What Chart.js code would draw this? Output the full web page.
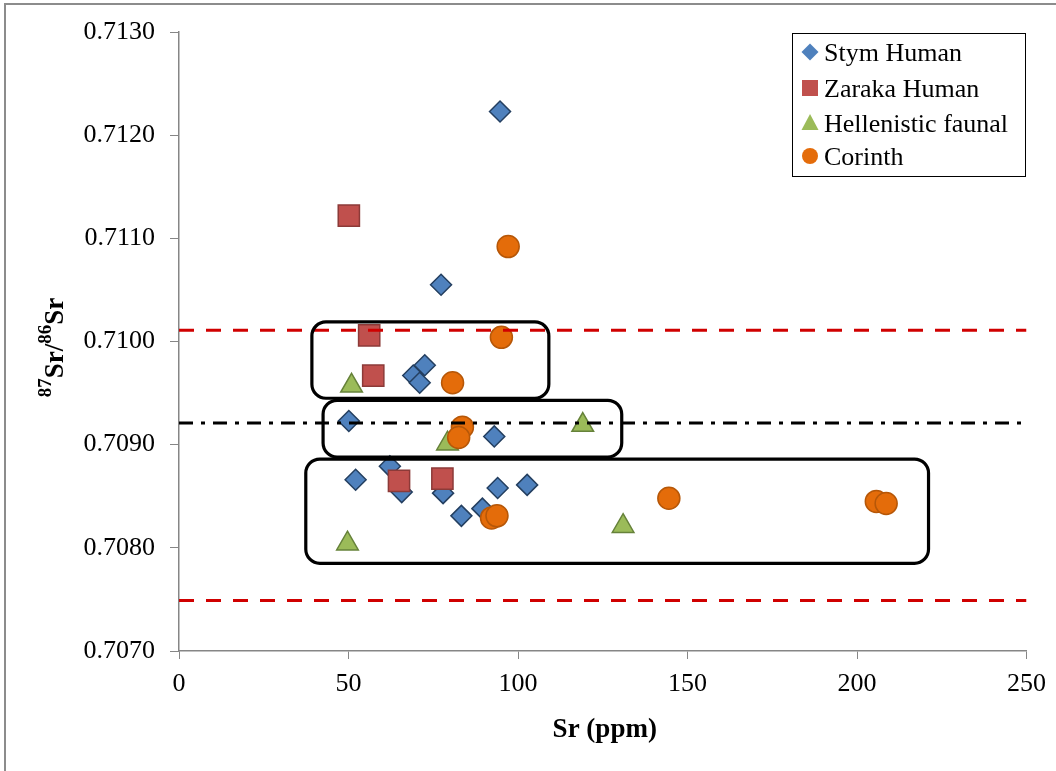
<!DOCTYPE html>
<html>
<head>
<meta charset="utf-8">
<script src="https://cdn.jsdelivr.net/npm/chart.js@4.4.1/dist/chart.umd.min.js"></script>
<style>
html,body{margin:0;padding:0;background:#fff;}
#wrap{width:1056px;height:771px;position:relative;}
</style>
</head>
<body>
<div id="wrap"><canvas id="c" width="1056" height="771"></canvas></div>
<script>
// ---- Data ----
const seriesNames = ['Stym Human', 'Zaraka Human', 'Hellenistic faunal', 'Corinth'];

const stymX = [94.7, 77.3, 72.5, 69.1, 71.0, 50.1, 93.0, 52.1, 62.2, 65.7, 77.9, 94.0, 102.7, 83.3, 89.5];
const stymY = [0.71223, 0.71055, 0.70977, 0.70967, 0.70960, 0.70923, 0.70908, 0.70866, 0.70879, 0.70854, 0.70853, 0.70858, 0.70861, 0.70831, 0.70838];

const zarakaX = [50.1, 56.1, 57.3, 64.9, 77.7];
const zarakaY = [0.71122, 0.71006, 0.70967, 0.70865, 0.70867];

const hellenX = [50.9, 79.2, 119.1, 49.7, 131.0];
const hellenY = [0.70957, 0.70901, 0.70919, 0.70804, 0.70821];

const corinthX = [97.1, 95.1, 80.7, 83.6, 82.5, 92.2, 93.8, 144.5, 205.7, 208.6];
const corinthY = [0.71092, 0.71004, 0.70960, 0.70917, 0.70907, 0.70829, 0.70831, 0.70848, 0.70845, 0.70843];

// reference lines: upper local range, lower local range, mean
const refLineNames = ['upper range', 'lower range', 'mean'];
const refLineValues = [0.71011, 0.70749, 0.70921];

// grouping boxes drawn on the chart (data units)
const boxXMin = [39.2, 42.5, 37.4];
const boxXMax = [109.1, 130.6, 221.1];
const boxYMin = [0.70945, 0.70888, 0.70785];
const boxYMax = [0.71019, 0.70943, 0.70886];

const xTickValues = [0, 50, 100, 150, 200, 250];
const xTickLabels = ['0', '50', '100', '150', '200', '250'];
const yTickValues = [0.707, 0.708, 0.709, 0.710, 0.711, 0.712, 0.713];
const yTickLabels = ['0.7070', '0.7080', '0.7090', '0.7100', '0.7110', '0.7120', '0.7130'];

const xTitle = 'Sr (ppm)';
const yTitleParts = [['87', true], ['Sr', false], ['/', false], ['86', true], ['Sr', false]];

// ---- Styles ----
const SERIF = '"Liberation Serif", "Times New Roman", serif';
const styles = [
  {pointStyle: 'rectRot', radius: 10.5, fill: '#4F81BD', stroke: '#243F60'},
  {pointStyle: 'rect', radius: 15, fill: '#C0504D', stroke: '#8C3A38'},
  {pointStyle: 'triangle', radius: 12.5, fill: '#9BBB59', stroke: '#66823A'},
  {pointStyle: 'circle', radius: 11, fill: '#E46C0A', stroke: '#B65708'}
];
const seriesX = [stymX, zarakaX, hellenX, corinthX];
const seriesY = [stymY, zarakaY, hellenY, corinthY];

function pts(xs, ys) { return xs.map((x, i) => ({x: x, y: ys[i]})); }

const datasets = seriesNames.map((name, i) => ({
  label: name,
  data: pts(seriesX[i], seriesY[i]),
  showLine: false,
  pointStyle: styles[i].pointStyle,
  pointRadius: styles[i].radius,
  pointBackgroundColor: styles[i].fill,
  pointBorderColor: styles[i].stroke,
  pointBorderWidth: 1.5,
  order: 10 - i
}));

const lineStyles = [
  {color: '#D00000', dash: [15, 12]},
  {color: '#D00000', dash: [15, 12]},
  {color: '#000000', dash: [14, 8, 4, 8]}
];
refLineValues.forEach((v, i) => {
  datasets.push({
    label: refLineNames[i],
    data: [{x: xTickValues[0], y: v}, {x: xTickValues[xTickValues.length - 1], y: v}],
    showLine: true,
    fill: false,
    pointRadius: 0,
    borderColor: lineStyles[i].color,
    borderWidth: 3,
    borderDash: lineStyles[i].dash,
    order: 2
  });
});

function roundRect(ctx, x, y, w, h, r) {
  ctx.beginPath();
  ctx.moveTo(x + r, y);
  ctx.arcTo(x + w, y, x + w, y + h, r);
  ctx.arcTo(x + w, y + h, x, y + h, r);
  ctx.arcTo(x, y + h, x, y, r);
  ctx.arcTo(x, y, x + w, y, r);
  ctx.closePath();
}

function drawMarker(ctx, style, cx, cy) {
  ctx.save();
  ctx.fillStyle = style.fill;
  ctx.beginPath();
  if (style.pointStyle === 'rectRot') {
    const r = 8.5;
    ctx.moveTo(cx, cy - r); ctx.lineTo(cx + r, cy); ctx.lineTo(cx, cy + r); ctx.lineTo(cx - r, cy); ctx.closePath();
  } else if (style.pointStyle === 'rect') {
    ctx.rect(cx - 8, cy - 8, 16, 16);
  } else if (style.pointStyle === 'triangle') {
    ctx.moveTo(cx, cy - 9); ctx.lineTo(cx + 8.5, cy + 7); ctx.lineTo(cx - 8.5, cy + 7); ctx.closePath();
  } else {
    ctx.arc(cx, cy, 8, 0, Math.PI * 2);
  }
  ctx.fill();
  ctx.restore();
}

const decor = {
  id: 'decor',
  beforeDraw(chart) {
    const ctx = chart.ctx;
    ctx.save();
    ctx.fillStyle = '#ffffff';
    ctx.fillRect(0, 0, chart.width, chart.height);
    ctx.strokeStyle = '#8c8c8c';
    ctx.lineWidth = 2;
    ctx.beginPath();
    ctx.moveTo(5, chart.height);
    ctx.lineTo(5, 4);
    ctx.lineTo(chart.width, 4);
    ctx.stroke();
    ctx.restore();
  },
  afterDatasetsDraw(chart) {
    const ctx = chart.ctx;
    const xs = chart.scales.x, ys = chart.scales.y;
    ctx.save();
    ctx.strokeStyle = '#000';
    ctx.lineWidth = 3.2;
    for (let i = 0; i < boxXMin.length; i++) {
      const x0 = xs.getPixelForValue(boxXMin[i]);
      const x1 = xs.getPixelForValue(boxXMax[i]);
      const y0 = ys.getPixelForValue(boxYMax[i]);
      const y1 = ys.getPixelForValue(boxYMin[i]);
      roundRect(ctx, x0, y0, x1 - x0, y1 - y0, 14);
      ctx.stroke();
    }
    ctx.restore();
  },
  afterDraw(chart) {
    const ctx = chart.ctx;
    const area = chart.chartArea;
    ctx.save();
    ctx.fillStyle = '#000';
    // x title
    ctx.font = 'bold 27px ' + SERIF;
    ctx.textAlign = 'center';
    ctx.textBaseline = 'alphabetic';
    ctx.fillText(xTitle, (area.left + area.right) / 2 + 2, 737);
    // y title (rotated, with superscripts)
    const mainFont = 'bold 27px ' + SERIF;
    const supFont = 'bold 19px ' + SERIF;
    let total = 0;
    yTitleParts.forEach(p => { ctx.font = p[1] ? supFont : mainFont; total += ctx.measureText(p[0]).width; });
    ctx.translate(63, (area.top + area.bottom) / 2 + 6);
    ctx.rotate(-Math.PI / 2);
    ctx.textAlign = 'left';
    let u = -total / 2;
    yTitleParts.forEach(p => {
      ctx.font = p[1] ? supFont : mainFont;
      ctx.fillText(p[0], u, p[1] ? -12 : 0);
      u += ctx.measureText(p[0]).width;
    });
    ctx.restore();

    // legend
    ctx.save();
    const lx = 792, ly = 33, lw = 233, lh = 143;
    ctx.fillStyle = '#fff';
    ctx.fillRect(lx, ly, lw, lh);
    ctx.strokeStyle = '#000';
    ctx.lineWidth = 1;
    ctx.strokeRect(lx + 0.5, ly + 0.5, lw, lh);
    const baselines = [61, 97, 132, 165];
    ctx.font = '26px ' + SERIF;
    ctx.textAlign = 'left';
    ctx.textBaseline = 'alphabetic';
    seriesNames.forEach((name, i) => {
      drawMarker(ctx, styles[i], 810, baselines[i] - 9);
      ctx.fillStyle = '#000';
      ctx.fillText(name, 824, baselines[i]);
    });
    ctx.restore();
  }
};

new Chart(document.getElementById('c'), {
  type: 'scatter',
  data: {datasets: datasets},
  options: {
    responsive: false,
    animation: false,
    events: [],
    layout: {padding: {left: 0, top: 32, right: 29, bottom: 0}},
    plugins: {legend: {display: false}, tooltip: {enabled: false}},
    scales: {
      x: {
        type: 'linear',
        min: xTickValues[0],
        max: xTickValues[xTickValues.length - 1],
        afterBuildTicks: (s) => { s.ticks = xTickValues.map(v => ({value: v})); },
        afterFit: (s) => { s.height = 771 - 651; },
        ticks: {
          font: {family: SERIF, size: 26},
          color: '#000',
          padding: 10,
          maxRotation: 0,
          callback: (v, i) => xTickLabels[i]
        },
        grid: {drawOnChartArea: false, drawTicks: true, tickLength: 8, color: '#868686'},
        border: {color: '#868686', width: 1.5}
      },
      y: {
        type: 'linear',
        min: yTickValues[0],
        max: yTickValues[yTickValues.length - 1],
        afterBuildTicks: (s) => { s.ticks = yTickValues.map(v => ({value: v})); },
        afterFit: (s) => { s.width = 179; },
        ticks: {
          font: {family: SERIF, size: 26},
          color: '#000',
          padding: 15,
          callback: (v, i) => yTickLabels[i]
        },
        grid: {drawOnChartArea: false, drawTicks: true, tickLength: 9, color: '#868686'},
        border: {color: '#868686', width: 1.5}
      }
    }
  },
  plugins: [decor]
});
</script>
</body>
</html>
